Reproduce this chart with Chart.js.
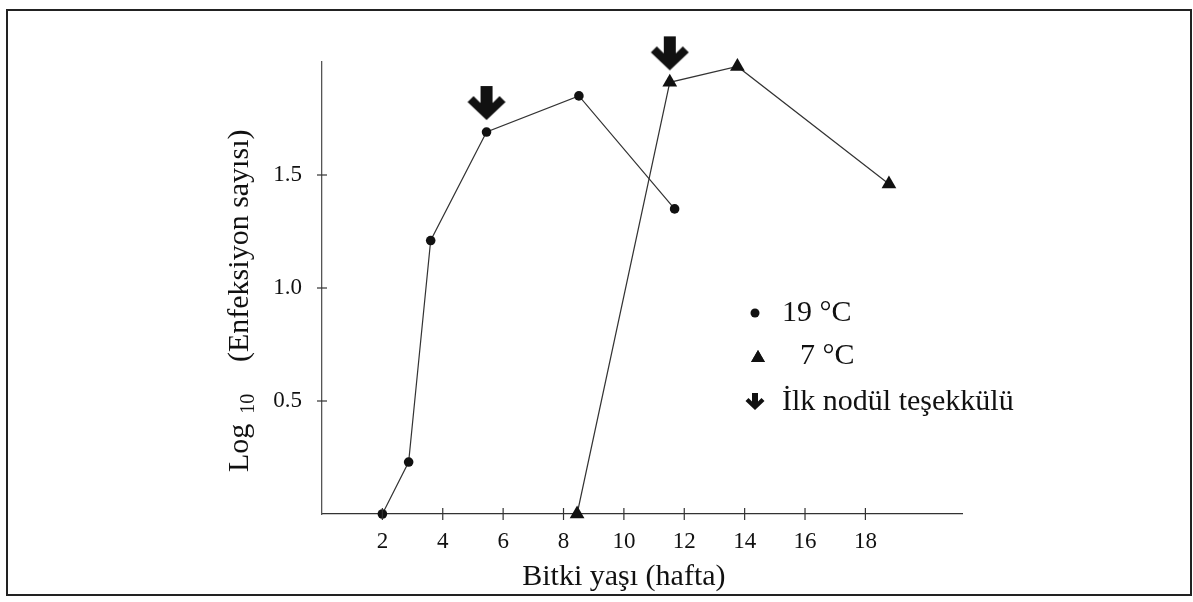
<!DOCTYPE html>
<html>
<head>
<meta charset="utf-8">
<script src="https://cdn.jsdelivr.net/npm/chart.js@4"></script>
<style>
body { margin: 0; background: #fff; }
canvas { display: block; }
</style>
</head>
<body>
<canvas id="myChart" width="1193" height="602"></canvas>
<script>
// weeks (x) and log10 infection count (y)
const weeks19 = [2, 2.87, 3.6, 5.45, 8.51, 11.68]
const log19 = [0, 0.23, 1.21, 1.69, 1.85, 1.35]
const weeks7 = [8.45, 11.52, 13.76, 18.78]
const log7 = [0, 1.91, 1.98, 1.46]
// first nodule formation
const noduleWeeks = [5.45, 11.52]
const noduleLog = [1.69, 1.91]

const xTicks = [2, 4, 6, 8, 10, 12, 14, 16, 18]
const yTicks = [0.5, 1.0, 1.5]
const legendLabels = ["19 °C", "7 °C", "İlk nodül teşekkülü"]
const xTitle = "Bitki yaşı (hafta)"
const yTitle = ["Log", "10", "(Enfeksiyon sayısı)"]

const serif = '"Liberation Serif", "Times New Roman", serif'
const ink = "#111"

function arrowPath(ctx, x, tipY, s) {
    ctx.beginPath()
    ctx.moveTo(x - 6 * s, tipY - 34 * s)
    ctx.lineTo(x + 6 * s, tipY - 34 * s)
    ctx.lineTo(x + 6 * s, tipY - 17 * s)
    ctx.lineTo(x + 13 * s, tipY - 24 * s)
    ctx.lineTo(x + 19 * s, tipY - 18 * s)
    ctx.lineTo(x, tipY)
    ctx.lineTo(x - 19 * s, tipY - 18 * s)
    ctx.lineTo(x - 13 * s, tipY - 24 * s)
    ctx.lineTo(x - 6 * s, tipY - 17 * s)
    ctx.closePath()
    ctx.fill()
}

// arrow marker image: tip sits 12px above the centre of the image
function makeArrow() {
    let c = document.createElement("canvas")
    c.width = 40
    c.height = 94
    let ctx = c.getContext("2d")
    ctx.fillStyle = ink
    arrowPath(ctx, 20, 35, 1)
    return c
}

function toPoints(xs, ys) {
    return xs.map((x, i) => ({ x: x, y: ys[i] }))
}

const extras = {
    id: "extras",
    beforeDraw(chart) {
        let ctx = chart.ctx
        ctx.save()
        ctx.fillStyle = "#fff"
        ctx.fillRect(0, 0, chart.width, chart.height)
        ctx.restore()
    },
    afterDraw(chart) {
        let ctx = chart.ctx
        let xs = chart.scales.x
        let ys = chart.scales.y
        let area = chart.chartArea
        ctx.save()

        // frame
        ctx.strokeStyle = "#222"
        ctx.lineWidth = 2
        ctx.strokeRect(7, 10, 1184, 585)

        // tick crosses
        ctx.strokeStyle = "#333"
        ctx.lineWidth = 1.2
        xTicks.forEach(v => {
            let px = xs.getPixelForValue(v)
            ctx.beginPath()
            ctx.moveTo(px, area.bottom - 6)
            ctx.lineTo(px, area.bottom + 6)
            ctx.stroke()
        })
        yTicks.forEach(v => {
            let py = ys.getPixelForValue(v)
            ctx.beginPath()
            ctx.moveTo(area.left - 5, py)
            ctx.lineTo(area.left + 5, py)
            ctx.stroke()
        })

        ctx.fillStyle = ink
        // x title
        ctx.font = "30px " + serif
        ctx.textAlign = "center"
        ctx.textBaseline = "middle"
        let mid = (xs.getPixelForValue(xTicks[0]) + xs.getPixelForValue(xTicks[xTicks.length - 1])) / 2
        ctx.fillText(xTitle, mid, 577)

        // y title with subscript
        ctx.save()
        ctx.translate(248, 472)
        ctx.rotate(-Math.PI / 2)
        ctx.textAlign = "left"
        ctx.textBaseline = "alphabetic"
        ctx.font = "30px " + serif
        ctx.fillText(yTitle[0], 0, 0)
        let w = ctx.measureText(yTitle[0]).width
        ctx.font = "20px " + serif
        ctx.fillText(yTitle[1], w + 10, 6)
        ctx.font = "30px " + serif
        ctx.fillText(yTitle[2], 110, 0)
        ctx.restore()

        // legend
        ctx.textAlign = "left"
        ctx.textBaseline = "middle"
        ctx.font = "30px " + serif
        ctx.beginPath()
        ctx.arc(755, 313, 4.5, 0, Math.PI * 2)
        ctx.fill()
        ctx.fillText(legendLabels[0], 782, 313)
        Chart.helpers.drawPoint(ctx, { pointStyle: "triangle", radius: 8, rotation: 0, borderWidth: 0 }, 758, 358)
        ctx.fill()
        ctx.fillText(legendLabels[1], 800, 356)
        arrowPath(ctx, 755, 410, 0.5)
        ctx.fillText(legendLabels[2], 782, 402)

        ctx.restore()
    }
}

const arrowImg = makeArrow()

new Chart(document.getElementById("myChart"), {
    type: "scatter",
    data: {
        datasets: [{
            label: legendLabels[0],
            data: toPoints(weeks19, log19),
            showLine: true,
            clip: false,
            borderColor: "#333",
            borderWidth: 1.2,
            pointStyle: "circle",
            pointRadius: 4.8,
            pointBackgroundColor: ink,
            pointBorderWidth: 0
        }, {
            label: legendLabels[1],
            data: toPoints(weeks7, log7),
            showLine: true,
            clip: false,
            borderColor: "#333",
            borderWidth: 1.2,
            pointStyle: "triangle",
            pointRadius: 8.5,
            pointBackgroundColor: ink,
            pointBorderWidth: 0
        }, {
            label: legendLabels[2],
            data: toPoints(noduleWeeks, noduleLog),
            showLine: false,
            clip: false,
            pointStyle: arrowImg
        }]
    },
    options: {
        responsive: false,
        animation: false,
        layout: { padding: { left: 0, top: 62, right: 231, bottom: 0 } },
        plugins: { legend: { display: false }, tooltip: { enabled: false } },
        scales: {
            x: {
                type: "linear",
                min: 0,
                max: 21.2,
                afterFit: s => { s.height = 88 },
                afterBuildTicks: s => { s.ticks = xTicks.map(v => ({ value: v })) },
                grid: { display: false, drawTicks: false },
                border: { display: true, color: "#333", width: 1.3 },
                ticks: {
                    padding: 14,
                    color: ink,
                    font: { family: serif, size: 23 },
                    callback: v => String(v)
                }
            },
            y: {
                type: "linear",
                min: 0,
                max: 2,
                afterFit: s => { s.width = 322 },
                afterBuildTicks: s => { s.ticks = yTicks.map(v => ({ value: v })) },
                grid: { display: false, drawTicks: false },
                border: { display: true, color: "#555", width: 1.3 },
                ticks: {
                    padding: 20,
                    color: ink,
                    font: { family: serif, size: 23 },
                    callback: v => v.toFixed(1)
                }
            }
        }
    },
    plugins: [extras]
})
</script>
</body>
</html>
